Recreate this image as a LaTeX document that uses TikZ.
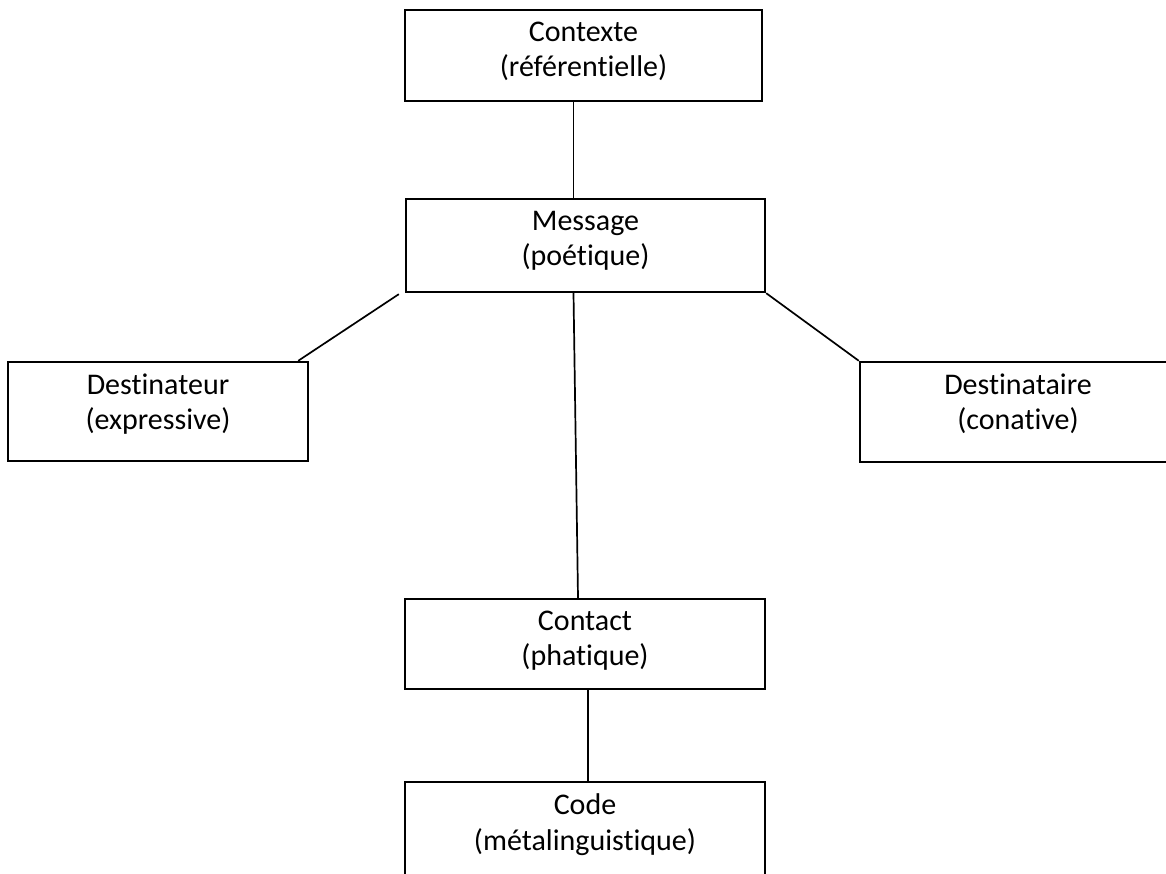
\documentclass[tikz,border=0pt]{standalone}
\usepackage{fontspec}
\setmainfont{Carlito}[Ligatures=NoCommon]
\begin{document}
\begin{tikzpicture}[x=1pt,y=-1pt,
  fbox/.style={draw=black, line width=2.4pt, rectangle, inner sep=0pt},
  ftext/.style={inner sep=0pt, anchor=north, align=center,
    font=\fontsize{30}{35.2}\selectfont, execute at begin node=\strut, yshift=-13pt},
  link/.style={draw=black, line width=1.7pt}]
\useasboundingbox (0,0) rectangle (1166,874);
% boxes
\node[fbox, minimum width=357pt, minimum height=91pt]  (ctx) at (583.5,55.5) {};
\node[fbox, minimum width=359pt, minimum height=93pt]  (msg) at (585.5,245.5) {};
\node[fbox, minimum width=300pt, minimum height=99pt]  (dtr) at (158,411.5) {};
\node[fbox, minimum width=316pt, minimum height=100pt] (dta) at (1018,412) {};
\node[fbox, minimum width=360pt, minimum height=90pt]  (ctc) at (585,644) {};
\node[fbox, minimum width=360pt, minimum height=100pt] (cod) at (585,832) {};
% texts
\node[ftext] (tctx) at (ctx.north) {Contexte\\(référentielle)};
\node[ftext] (tmsg) at (msg.north) {Message\\(poétique)};
\node[ftext] (tdtr) at (dtr.north) {Destinateur\\(expressive)};
\node[ftext] (tdta) at (dta.north) {Destinataire\\(conative)};
\node[ftext] (tctc) at (ctc.north) {Contact\\(phatique)};
\node[ftext] (tcod) at (cod.north) {Code\\(métalinguistique)};
% connectors
\draw[link] ([xshift=-10pt]ctx.south) -- ([xshift=-12pt]msg.north);
\draw[link] ([xshift=-6pt,yshift=-1pt]msg.south west) -- ([xshift=-11pt]dtr.north east);
\draw[link] (msg.south east) -- (dta.north west);
\draw[link] ([xshift=-12pt]msg.south) -- ([xshift=-7pt]ctc.north);
\draw[link] ([xshift=3pt]ctc.south) -- ([xshift=3pt]cod.north);
\end{tikzpicture}
\end{document}
